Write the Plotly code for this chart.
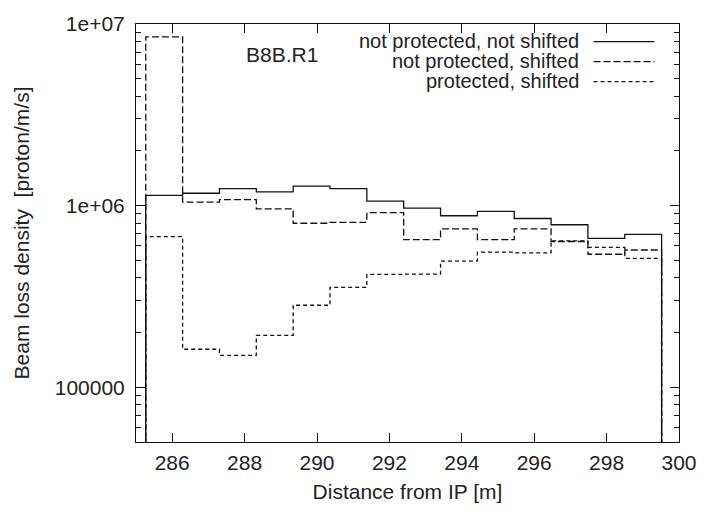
import numpy as np
import plotly.graph_objects as go

# Histogram bins along the beam line (m)
bin_edges = np.linspace(285.27, 299.52, 15)

# Beam loss density per bin [proton/m/s]
not_prot_not_shifted = [1.14e6, 1.17e6, 1.24e6, 1.19e6, 1.28e6, 1.24e6, 1.06e6,
                        9.7e5, 8.8e5, 9.3e5, 8.5e5, 7.85e5, 6.6e5, 6.95e5]
not_prot_shifted = [8.5e6, 1.045e6, 1.08e6, 9.6e5, 8.0e5, 8.1e5, 9.15e5,
                    6.5e5, 7.45e5, 6.5e5, 7.45e5, 6.35e5, 5.4e5, 5.7e5]
prot_shifted = [6.75e5, 1.62e5, 1.5e5, 1.93e5, 2.83e5, 3.55e5, 4.18e5,
                4.2e5, 4.95e5, 5.55e5, 5.5e5, 6.4e5, 5.9e5, 5.13e5]

series = [
    ("not protected, not shifted", not_prot_not_shifted, "solid"),
    ("not protected, shifted", not_prot_shifted, "7px,3px"),
    ("protected, shifted", prot_shifted, "4px,3px"),
]

x_ticks = [286, 288, 290, 292, 294, 296, 298, 300]
y_ticks = [1e5, 1e6, 1e7]
y_tick_text = ["100000", "1e+06", "1e+07"]

FONT = "Liberation Sans, Arial, Helvetica, sans-serif"
FS = 21
KEY_FS = 20
INK = "#111111"
TXT = "#222222"
W, H = 709, 512
L, R, T, B = 136, 20, 16, 68
FLOOR = 1e3  # histogram outline drops below the visible range at both ends


def steps(edges, vals):
    xs = [edges[0]] + list(edges[:-1]) + [edges[-1], edges[-1]]
    ys = [FLOOR] + list(vals) + [vals[-1], FLOOR]
    return xs, ys


fig = go.Figure()
for name, vals, dash in series:
    xs, ys = steps(bin_edges, vals)
    fig.add_trace(go.Scatter(
        x=xs, y=ys, mode="lines", name=name, line_shape="hv",
        line=dict(color=INK, width=1.3, dash=dash), showlegend=False,
    ))


def px(xp):
    return (xp - L) / (W - L - R)


def py(yp):
    return (H - B - yp) / (H - T - B)


# Key: right-aligned text followed by a line sample
key_rows = [33, 53.5, 74]
for (name, _, dash), yr in zip(series, key_rows):
    fig.add_annotation(x=px(589), y=py(yr), xref="paper", yref="paper",
                       text=name, showarrow=False, xanchor="right", yanchor="middle",
                       font=dict(family=FONT, size=KEY_FS, color=TXT))
    fig.add_shape(type="line", xref="paper", yref="paper",
                  x0=px(602), x1=px(664), y0=py(yr + 1), y1=py(yr + 1),
                  line=dict(color=INK, width=1.3, dash=dash))

fig.add_annotation(x=px(246), y=py(47), xref="paper", yref="paper",
                   text="B8B.R1", showarrow=False, xanchor="left", yanchor="middle",
                   font=dict(family=FONT, size=FS, color=TXT))

axis_common = dict(showline=True, linecolor=INK, linewidth=1, mirror="ticks",
                   ticks="inside", tickcolor=INK, tickwidth=1, ticklen=9,
                   showgrid=False, zeroline=False,
                   tickfont=dict(family=FONT, size=FS, color=TXT),
                   title_font=dict(family=FONT, size=FS, color=TXT))

fig.update_xaxes(range=[285, 300], tickvals=x_ticks,
                 title_text="Distance from IP [m]", title_standoff=11,
                 ticklabelstandoff=2, **axis_common)
fig.update_yaxes(type="log", range=[np.log10(5e4), 7], tickvals=y_ticks,
                 ticktext=y_tick_text,
                 minor=dict(ticks="inside", ticklen=5, tickcolor=INK,
                            dtick="D1", showgrid=False),
                 title_text="Beam loss density  [proton/m/s]", title_standoff=19,
                 ticklabelstandoff=6, **axis_common)

fig.update_layout(width=W, height=H, margin=dict(l=L, r=R, t=T, b=B),
                  plot_bgcolor="white", paper_bgcolor="white",
                  font=dict(family=FONT, color=TXT))

fig.write_html("out.html")
